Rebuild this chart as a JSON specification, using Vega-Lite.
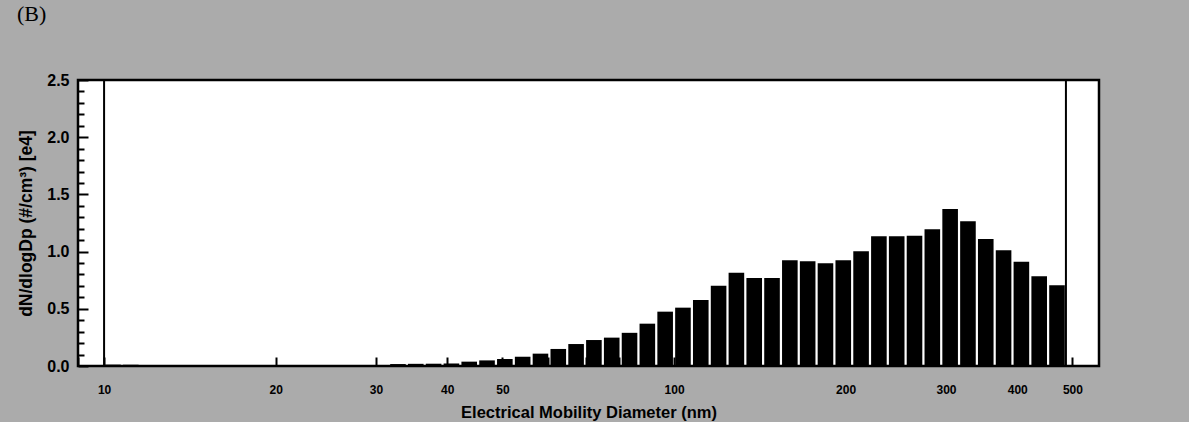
{
  "$schema": "https://vega.github.io/schema/vega-lite/v6.json",
  "width": 1021,
  "height": 286,
  "autosize": {"type": "none"},
  "padding": {"left": 78, "top": 80, "right": 90, "bottom": 56},
  "background": "#ababab",
  "title": {
    "text": "(B)",
    "anchor": "start",
    "frame": "group",
    "font": "Liberation Serif",
    "fontSize": 22,
    "fontWeight": "normal",
    "color": "black",
    "baseline": "alphabetic",
    "offset": 0,
    "dx": -61,
    "dy": -29
  },
  "config": {
    "view": {"fill": "white", "stroke": "black", "strokeWidth": 2.5},
    "axis": {
      "domain": false,
      "grid": false,
      "tickColor": "black",
      "tickWidth": 2,
      "labelColor": "black",
      "titleColor": "black",
      "labelFont": "Liberation Sans",
      "titleFont": "Liberation Sans",
      "labelFontWeight": "bold",
      "titleFontWeight": "bold",
      "labelOverlap": false,
      "labelFlush": false,
      "labelBound": false
    },
    "axisX": {
      "values": [10, 20, 30, 40, 50, 60, 70, 80, 90, 100, 200, 300, 400, 500],
      "format": "d",
      "labelExpr": "indexof([60, 80, 90], datum.value) >= 0 ? '' : datum.label",
      "tickSize": -9,
      "labelFontSize": 12,
      "labelPadding": 27,
      "titleFontSize": 16.5,
      "titlePadding": 9
    }
  },
  "layer": [
    {
      "data": {
        "values": [
          {"dp": 10.366, "n": 0.012},
          {"dp": 11.140, "n": 0.011},
          {"dp": 11.971, "n": 0.005},
          {"dp": 12.864, "n": 0.004},
          {"dp": 13.824, "n": 0.004},
          {"dp": 14.855, "n": 0.003},
          {"dp": 15.964, "n": 0.004},
          {"dp": 17.155, "n": 0.003},
          {"dp": 18.435, "n": 0.004},
          {"dp": 19.810, "n": 0.004},
          {"dp": 21.288, "n": 0.005},
          {"dp": 22.876, "n": 0.005},
          {"dp": 24.582, "n": 0.006},
          {"dp": 26.416, "n": 0.006},
          {"dp": 28.387, "n": 0.007},
          {"dp": 30.505, "n": 0.008},
          {"dp": 32.781, "n": 0.017},
          {"dp": 35.227, "n": 0.019},
          {"dp": 37.855, "n": 0.020},
          {"dp": 40.679, "n": 0.022},
          {"dp": 43.714, "n": 0.038},
          {"dp": 46.975, "n": 0.049},
          {"dp": 50.480, "n": 0.061},
          {"dp": 54.247, "n": 0.081},
          {"dp": 58.294, "n": 0.108},
          {"dp": 62.644, "n": 0.149},
          {"dp": 67.317, "n": 0.192},
          {"dp": 72.340, "n": 0.227},
          {"dp": 77.737, "n": 0.248},
          {"dp": 83.537, "n": 0.29},
          {"dp": 89.770, "n": 0.37},
          {"dp": 96.467, "n": 0.475},
          {"dp": 103.66, "n": 0.51},
          {"dp": 111.40, "n": 0.577},
          {"dp": 119.71, "n": 0.702},
          {"dp": 128.64, "n": 0.816},
          {"dp": 138.24, "n": 0.769},
          {"dp": 148.55, "n": 0.769},
          {"dp": 159.64, "n": 0.924},
          {"dp": 171.55, "n": 0.915},
          {"dp": 184.35, "n": 0.898},
          {"dp": 198.10, "n": 0.924},
          {"dp": 212.88, "n": 1.003},
          {"dp": 228.76, "n": 1.134},
          {"dp": 245.82, "n": 1.134},
          {"dp": 264.16, "n": 1.139},
          {"dp": 283.87, "n": 1.195},
          {"dp": 305.05, "n": 1.372},
          {"dp": 327.81, "n": 1.265},
          {"dp": 352.27, "n": 1.110},
          {"dp": 378.55, "n": 1.011},
          {"dp": 406.79, "n": 0.912},
          {"dp": 437.14, "n": 0.784},
          {"dp": 469.75, "n": 0.705}
        ]
      },
      "mark": {"type": "bar", "width": 15.6, "color": "black"},
      "encoding": {
        "x": {
          "field": "dp",
          "type": "quantitative",
          "scale": {"type": "log", "domain": [9, 556.6], "nice": false, "padding": 0},
          "axis": {"title": "Electrical Mobility Diameter (nm)"}
        },
        "y": {
          "field": "n",
          "type": "quantitative",
          "scale": {"domain": [0, 2.5], "nice": false},
          "axis": {
            "orient": "left",
            "values": [0, 0.5, 1, 1.5, 2, 2.5],
            "format": ".1f",
            "tickSize": -10,
            "labelFontSize": 16,
            "labelPadding": 19,
            "title": "dN/dlogDp (#/cm³) [e4]",
            "titleFontSize": 17.5,
            "titlePadding": 11
          }
        }
      }
    },
    {
      "data": {"values": [{"limit": 10}, {"limit": 487}]},
      "mark": {"type": "rule", "color": "black", "strokeWidth": 2},
      "encoding": {
        "x": {
          "field": "limit",
          "type": "quantitative",
          "axis": {"title": "Electrical Mobility Diameter (nm)"}
        },
        "y": {
          "datum": 0,
          "type": "quantitative",
          "axis": {
            "orient": "left",
            "values": [0.1, 0.2, 0.3, 0.4, 0.6, 0.7, 0.8, 0.9, 1.1, 1.2, 1.3, 1.4, 1.6, 1.7, 1.8, 1.9, 2.1, 2.2, 2.3, 2.4],
            "tickSize": -6,
            "labels": false,
            "title": null
          }
        },
        "y2": {"datum": 2.5}
      }
    }
  ],
  "resolve": {"axis": {"y": "independent"}}
}
